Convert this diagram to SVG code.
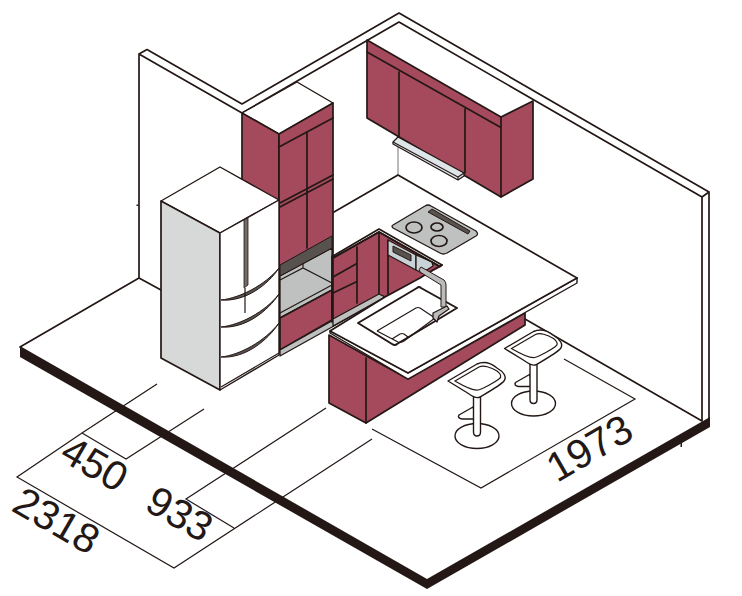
<svg xmlns="http://www.w3.org/2000/svg" width="742" height="596" viewBox="0 0 742 596">
<defs>
<g id="stool">
<path class="w" d="M473 407L459 415Q457 418 462 419H477Z"/>
<ellipse class="w" cx="477" cy="436" rx="22" ry="12.5"/>
<path class="w" d="M473.500 392V432Q473.500 436 477 436Q480.500 436 480.500 432V392Z"/>
<path class="w" d="M448 381L477 364C484 361 491 363 497 368C504 372 507 377 504 381C501 385 485 394 480 397C476 399 472 396 466 392Z"/>
<path class="n" d="M455 381L479 367C483 365 491 367 497 371C501 374 502 377 499 379C495 382 483 389 478 390C472 391 462 385 455 381Z"/>
</g>
</defs>
<style>
.l{fill:none;stroke:#231815;stroke-width:1.7;stroke-linejoin:round;stroke-linecap:round}
.n{fill:none;stroke:#231815;stroke-width:1.2;stroke-linecap:butt;stroke-linejoin:miter}
.w{fill:#fff;stroke:#231815;stroke-width:1.4;stroke-linejoin:round}
.r{fill:#a5495c;stroke:#231815;stroke-width:1.7;stroke-linejoin:round}
.g{fill:#bec1c0;stroke:#231815;stroke-width:1.3;stroke-linejoin:round}
.c{fill:#c9d2d6;stroke:#231815;stroke-width:1.3;stroke-linejoin:round}
.d{fill:#58524f;stroke:#231815;stroke-width:1;stroke-linejoin:round}
.t{font-family:"Liberation Sans",Arial,sans-serif;font-size:41px;fill:#231815}
</style>
<rect width="742" height="596" fill="#fff"/>
<g id="room">
<path class="l" d="M139 278V54L147 49.500L242 104L399 13L709 192V420M139 54L242 113L399 22L702 197V421M702 197L709 192M139 278L20 347M139 278L161 290M525 319L702 421"/>
<path fill="#231815" d="M20 346L427 579L710 417V427L427 589L20 357Z"/>
<path fill="#231815" d="M136.500 204.500h2v1.500h-2zM680.500 442h1.500v5h-1.500z"/>
<path d="M398 145V175" fill="none" stroke="#777" stroke-width="1"/>
</g>
<g id="upper-cabinet">
<path class="r" d="M367 40L501 117L533 101V179L501 197L367 118Z"/>
<path class="l" d="M501 117V197M367 52L500 127M399 72V137M465 109V173"/>
<path fill="#dfe6ea" stroke="#231815" stroke-width="1.3" stroke-linejoin="round" d="M398 137L464 173V176L458 180L393 144V142Z"/>
<path class="n" d="M393 142L458 177V180M458 177L464 173"/>
</g>
<g id="tall-cabinet">
<path class="w" d="M242 113L297 82L333 103L279 134Z"/>
<path class="r" d="M242 113L279 134V250L242 232Z"/>
<path class="r" d="M279 134L333 103V320L279 352Z"/>
<path class="l" d="M279 147L333 118M280 203L333 175M280 207L333 179M307 133V248"/>
<path class="g" d="M280 276L332 248V290L280 318Z"/>
<path class="d" d="M280 265L332 236V248L280 276Z"/>
<path class="n" d="M280 280L303 268L332 283M303 263V268M280 313L332 285M280 318L332 290"/>
<path class="r" d="M280 318L332 290V320L280 350Z"/>
<path class="g" d="M280 350L380 294L386 297L280 356Z"/>
</g>
<g id="refrigerator">
<path class="w" d="M161 201L220 167L279 200L220 233Z" stroke-width="1.700"/>
<path fill="#d7d8d8" stroke="#231815" stroke-width="1.7" stroke-linejoin="round" d="M161 201L220 233V390L161 358Z"/>
<path class="w" d="M220 233L279 200V355L220 390Z" stroke-width="1.700"/>
<path fill="#6f6b69" stroke="#231815" stroke-width=".8" d="M244 220L248 218V285L244 288Z"/>
<path class="d" d="M221 300C240 298 265 285 279 268C268 285 245 302 221 300ZM221 327C240 325 265 312 279 294C268 311 245 329 221 327ZM221 357C240 355 265 341 279 323C268 340 245 359 221 357Z"/>
<path class="n" d="M245 288V313M221 387L279 353"/>
</g>
<g id="island">
<path class="r" d="M329 335L408 379L525 313V325L366 423L329 403Z"/>
<path class="l" d="M366 358V423"/>
<path class="r" d="M333 258L379 232L442 268L385 297L379 295L333 320Z"/>
<path class="l" d="M357 247V303M379 232V295M388 240V296M333 277L356 264M333 293L356 282M332 256V322"/>
<path class="c" d="M388 240L416 255V270L388 255Z"/>
<path class="c" d="M416 255L432 262L433 266L422 273L416 270Z"/>
<path class="d" d="M393 246L411 255V261L393 252Z" stroke-width="1.200"/>
<path class="g" d="M333 319L379 294L385 297L333 326Z"/>
<path class="l" d="M334 212L398 175L577 278M333 256L379 229L442 265M333 258L379 232L441 267"/>
<path class="w" d="M330 331L408 373L577 278V283L408 379L330 333Z"/>
<path fill="#fff" stroke="none" d="M330 331L385 297L420 278L443 266L577 278L408 373Z"/>
<path class="l" d="M330 331L385 297L420 278L433 270L442 265M330 331L408 373L577 278"/>
<path class="g" d="M393 225L425 206Q428 204 431 206L476 231Q479 234 476 236L447 253Q443 255 440 253L393 228Q391 226 393 225Z"/>
<path class="d" d="M432 209L470 231L468 234L428 212Z"/>
<ellipse class="l" cx="414" cy="227.500" rx="8" ry="5.500"/>
<ellipse class="l" cx="437" cy="227" rx="6" ry="4"/>
<ellipse class="l" cx="439" cy="241" rx="8" ry="5.500"/>
<path fill="#fff" stroke="#231815" stroke-width="2" stroke-linejoin="round" d="M358 323L417 288Q419 286 421 288L457 308L397 344Q395 346 392 344Z"/>
<path class="n" d="M377 331L416 308Q418 307 420 308L435 318L404 341Q401 343 398 342L377 331M392 339L400 334Q402 333 404 334L408 337"/>
<path fill="#bbb" stroke="#231815" stroke-width="1" stroke-linejoin="round" d="M421 267L444 280Q446 282 446 285V307H441V285L420 272Q418 269 421 267Z"/>
<path fill="#bbb" stroke="#231815" stroke-width="1.300" stroke-linejoin="round" d="M433 313L447 306L449 309L439 316L437 322L433 318Z"/>
</g>
<g id="connectors">
<path class="n" d="M157 384L82 433L126 459L204 409M82 433L17 477L174 568L372 439M326 408L186 499L234 528M564 359L635 399L481 488L372 429"/>
</g>
<g id="stool-2"><use href="#stool" x="56.500" y="-32.500"/></g>
<g id="stool-1"><use href="#stool"/></g>
<g id="labels">
<text class="t" transform="translate(58 459) rotate(30)">450</text>
<text class="t" transform="translate(10 510) rotate(30)">2318</text>
<text class="t" transform="translate(143 509) rotate(30)">933</text>
<text class="t" transform="translate(557 483) rotate(-30)">1973</text>
</g>
</svg>
